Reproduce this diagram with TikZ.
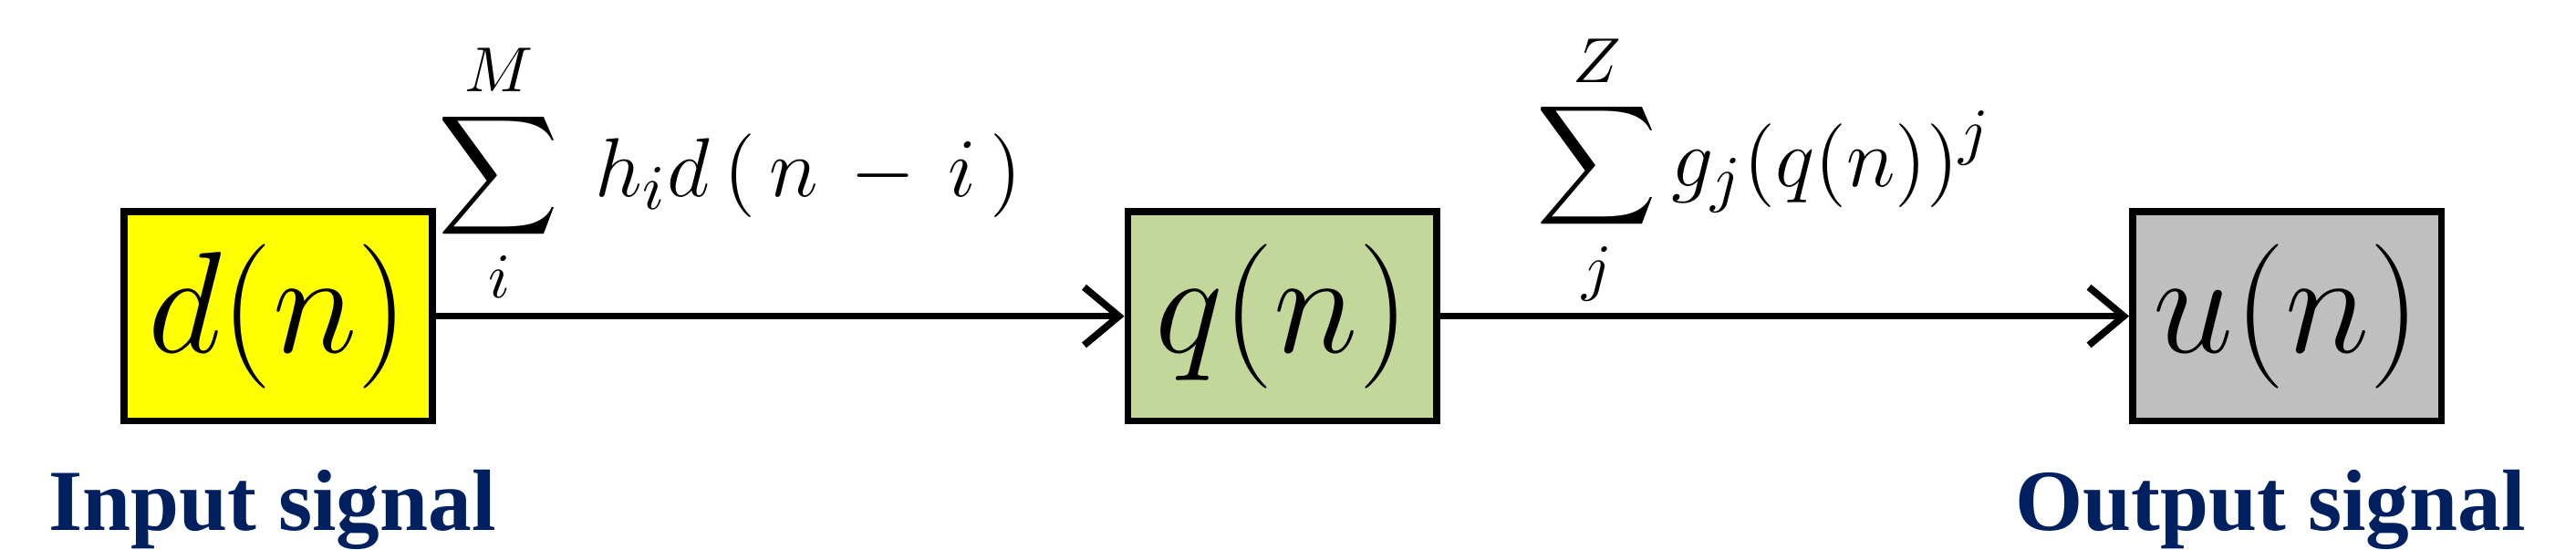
\documentclass[tikz,border=0pt]{standalone}
\usepackage{fontspec}
\setmainfont{Liberation Serif}
\usepackage{amsmath}
\usetikzlibrary{arrows.meta}
\definecolor{navy}{RGB}{0,32,96}
\definecolor{boxyellow}{RGB}{255,255,0}
\definecolor{boxgreen}{RGB}{196,215,155}
\definecolor{boxgray}{RGB}{191,191,191}
\tikzset{
  sigbox/.style={draw=black, line width=1.2pt, minimum width=1.87cm, minimum height=1.27cm, inner sep=0pt, font=\fontsize{24}{28}\selectfont},
  conn/.style={line width=1.2pt, -{Straight Barb[length=6pt,width=10pt,line width=1.2pt]}},
  siglabel/.style={font=\fontsize{15}{18}\selectfont\bfseries, text=navy, anchor=base}
}
\begin{document}
\begin{tikzpicture}
\useasboundingbox (0,0) rectangle (15.6,3.33);
\node[sigbox, fill=boxyellow] (d) at (1.685,1.415) {$d(n)$};
\node[sigbox, fill=boxgreen] (q) at (7.765,1.415) {$q(n)$};
\node[sigbox, fill=boxgray] (u) at (13.85,1.415) {$u(n)$};
\draw[conn] (d) -- (q);
\draw[conn] (q) -- (u);
\node[anchor=west, inner sep=0pt] (f1) at (2.65,2.28) {\fontsize{15}{18}\selectfont$\displaystyle\sum_{i}^{M}\ h_i d\,(\,n\,-\,i\,)$};
\node[anchor=west, inner sep=0pt] (f2) at (9.3,2.3) {\fontsize{15}{18}\selectfont$\displaystyle\sum_{j}^{Z} g_j(q(n))^j$};
\node[siglabel] (in) at (1.65,0.12) {Input signal};
\node[siglabel] (out) at (13.75,0.12) {Output signal};
\end{tikzpicture}
\end{document}
